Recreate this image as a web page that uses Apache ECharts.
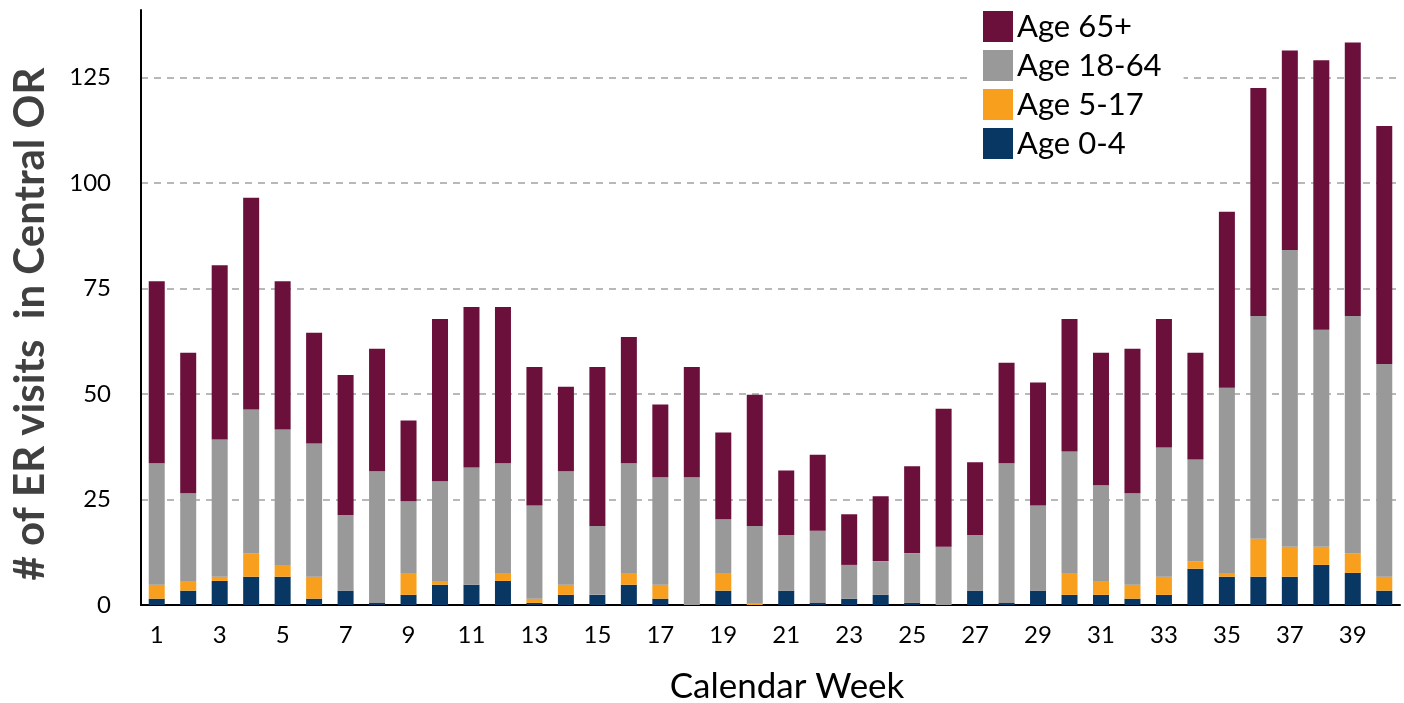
<!DOCTYPE html>
<html>
<head>
<meta charset="utf-8">
<script src="https://cdn.jsdelivr.net/npm/echarts@6/dist/echarts.min.js"></script>
<style>
html,body{margin:0;padding:0;background:#fff;}
#chart{width:1404px;height:703px;}
</style>
</head>
<body>
<div id="chart"></div>
<script>
const weeks = [1,2,3,4,5,6,7,8,9,10,11,12,13,14,15,16,17,18,19,20,21,22,23,24,25,26,27,28,29,30,31,32,33,34,35,36,37,38,39,40];
const age0to4 = [1.5,3.4,5.7,6.7,6.7,1.5,3.4,0.5,2.4,4.8,4.8,5.7,0.5,2.4,2.4,4.8,1.5,0,3.4,0,3.4,0.5,1.5,2.4,0.5,0,3.4,0.5,3.4,2.4,2.4,1.5,2.4,8.6,6.7,6.7,6.7,9.5,7.6,3.4];
const age5to17 = [3.3,2.3,1.0,5.6,2.8,5.2,0,0,5.2,0.9,0,1.9,1.0,2.4,0,2.8,3.3,0,4.2,0.5,0,0,0,0,0,0,0,0,0,5.2,3.3,3.3,4.3,1.8,0.9,9.0,7.1,4.3,4.7,3.3];
const age18to64 = [28.8,20.8,32.5,34.0,32.1,31.6,17.9,31.2,17.0,23.6,27.8,26.0,22.1,26.9,16.3,26.0,25.5,30.3,12.7,18.2,13.2,17.1,8.0,8.0,11.8,13.8,13.2,33.1,20.2,28.8,22.7,21.7,30.6,24.1,43.9,52.8,70.3,51.4,56.2,50.4];
const age65plus = [43.1,33.3,41.3,50.2,35.1,26.2,33.2,29.0,19.1,38.5,38.0,37.0,32.8,20.0,37.7,29.9,17.2,26.1,20.6,31.1,15.3,18.0,12.0,15.4,20.6,32.7,17.2,23.8,29.1,31.4,31.4,34.2,30.5,25.3,41.7,54.0,47.3,63.9,64.8,56.4];
const yTicks = {min: 0, max: 141, interval: 25};
const seriesNames = ['Age 0-4','Age 5-17','Age 18-64','Age 65+'];
const colors = ['#083763','#F8A01E','#999999','#6B0F3B'];

const chart = echarts.init(document.getElementById('chart'), null, {renderer: 'canvas'});
const dataSets = [age0to4, age5to17, age18to64, age65plus];
const series = seriesNames.map((name, i) => ({
  name: name,
  type: 'bar',
  stack: 'total',
  barWidth: 16,
  data: dataSets[i],
  itemStyle: {color: colors[i]},
  emphasis: {disabled: true}
}));

chart.setOption({
  animation: false,
  textStyle: {fontFamily: 'Lato'},
  grid: {left: 141, right: 4, top: 10, bottom: 98, containLabel: false},
  legend: {
    data: ['Age 65+','Age 18-64','Age 5-17','Age 0-4'],
    orient: 'vertical',
    left: 973,
    top: 1,
    padding: [10, 22, 10, 10],
    backgroundColor: '#ffffff',
    icon: 'rect',
    itemWidth: 30,
    itemHeight: 31,
    itemGap: 8,
    textStyle: {fontFamily: 'Lato', fontSize: 31, color: '#000', padding: [3,0,0,-1]}
  },
  xAxis: {
    type: 'category',
    data: weeks,
    axisLine: {show: true, lineStyle: {color: '#000', width: 2}},
    axisTick: {show: false},
    axisLabel: {interval: 1, fontSize: 24, color: '#000', margin: 18, fontFamily: 'Lato'}
  },
  yAxis: {
    type: 'value',
    min: yTicks.min,
    max: yTicks.max,
    interval: yTicks.interval,
    axisLine: {show: true, lineStyle: {color: '#000', width: 2}},
    axisTick: {show: false},
    axisLabel: {fontSize: 24, color: '#000', margin: 30, showMaxLabel: false, fontFamily: 'Lato'},
    splitLine: {show: true, showMaxLine: false, showMinLine: false, lineStyle: {color: '#b8b8b8', width: 2, type: [7, 6]}}
  },
  graphic: [
    {
      type: 'text',
      x: 30, y: 324,
      rotation: Math.PI / 2,
      style: {text: '# of ER visits  in Central OR', font: 'bold 42px Lato', fill: '#404040', align: 'center', verticalAlign: 'middle'}
    },
    {
      type: 'text',
      x: 787, y: 687,
      style: {text: 'Calendar Week', font: '35px Lato', fill: '#000', align: 'center', verticalAlign: 'middle'}
    }
  ],
  series: series
});
</script>
</body>
</html>
